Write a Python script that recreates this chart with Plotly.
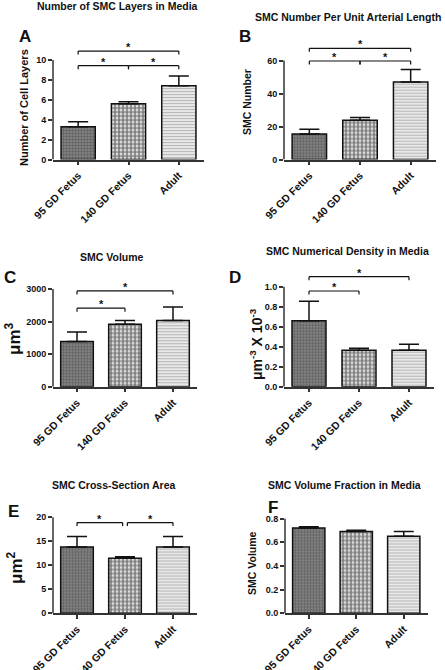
import plotly.graph_objects as go

W, H = 445, 670

categories = ["95 GD Fetus", "140 GD Fetus", "Adult"]

layers_mean = [3.3, 5.6, 7.4]
layers_upper = [3.8, 5.8, 8.4]
number_mean = [15.5, 23.8, 47.0]
number_upper = [18.3, 25.5, 54.5]
volume_mean = [1390, 1920, 2030]
volume_upper = [1680, 2030, 2450]
density_mean = [0.66, 0.365, 0.365]
density_upper = [0.855, 0.385, 0.425]
area_mean = [13.8, 11.45, 13.8]
area_upper = [16.0, 11.8, 16.0]
fraction_mean = [0.72, 0.69, 0.65]
fraction_upper = [0.73, 0.70, 0.69]

titles = ["Number of SMC Layers in Media", "SMC Number Per Unit Arterial Length",
          "SMC Volume", "SMC Numerical Density in Media",
          "SMC Cross-Section Area", "SMC Volume Fraction in Media"]
letters = ["A", "B", "C", "D", "E", "F"]
ytitles = ["Number of Cell Layers", "SMC Number", "μm<sup>3</sup>",
           "μm<sup>-3</sup> X 10<sup>-3</sup>", "μm<sup>2</sup>", "SMC Volume"]
yticks = [[0, 2, 4, 6, 8, 10], [0, 20, 40, 60], [0, 1000, 2000, 3000],
          [0, 0.2, 0.4, 0.6, 0.8, 1.0], [0, 5, 10, 15, 20], [0, 0.2, 0.4, 0.6, 0.8]]
ytickformat = ["", "", "", ".1f", "", ".1f"]

# significance brackets: (from index, to index, level)
brackets = [
    [(0, 2, 10.9), (0, 1, 9.43), (1, 2, 9.43)],
    [(0, 2, 67.4), (0, 1, 59.7), (1, 2, 59.7)],
    [(0, 2, 2940), (0, 1, 2410)],
    [(0, 2, 1.10), (0, 1, 0.957)],
    [(0, 0.95, 18.9), (1.05, 2, 18.9)],
    [],
]

means = [layers_mean, number_mean, volume_mean, density_mean, area_mean, fraction_mean]
uppers = [layers_upper, number_upper, volume_upper, density_upper, area_upper, fraction_upper]

# layout geometry in pixels: x left, x right, y of zero, top tick px, range top
geom = [
    dict(xl=53, xr=204, yb=159.5, ytp=60.0, rtop=11.8),
    dict(xl=284, xr=436, yb=159.5, ytp=60.5, rtop=72),
    dict(xl=53, xr=197, yb=386.7, ytp=289.0, rtop=3300),
    dict(xl=284, xr=434, yb=386.7, ytp=286.7, rtop=1.2),
    dict(xl=53, xr=197, yb=613.3, ytp=517.3, rtop=21.2),
    dict(xl=285, xr=427.5, yb=613.3, ytp=518.5, rtop=0.8),
]
title_pos = [(117, 6), (348, 17), (112, 257), (347, 251), (113, 485), (344, 485)]
letter_pos = [(25, 36), (245, 37), (10, 277), (235, 277), (13, 511), (273, 507)]
ytitle_pos = [(24, 108, 11), (247, 102, 10.5), (13, 339, 17), (256, 344, 14),
              (15, 568, 17), (252, 563, 10.5)]

pattern = dict(
    shape=[".", ".", "-"],
    fgcolor=["#333333", "#000000", "#777777"],
    bgcolor=["#8c8c8c", "#ffffff", "#f2f2f2"],
    size=[3, 4, 3],
    solidity=[0.55, 0.7, 0.45],
)

FONT = "Liberation Sans, Arial, sans-serif"
fig = go.Figure()
shapes = []
annotations = []

for k in range(6):
    g = geom[k]
    sfx = "" if k == 0 else str(k + 1)
    xa, ya = "x" + sfx, "y" + sfx
    topval = yticks[k][-1]
    ppu = (g["yb"] - g["ytp"]) / topval
    ytop_px = g["yb"] - g["rtop"] * ppu
    err = [u - m for u, m in zip(uppers[k], means[k])]
    fig.add_trace(go.Bar(
        x=categories, y=means[k], xaxis=xa, yaxis=ya,
        width=0.68,
        marker=dict(pattern=pattern, line=dict(color="#111111", width=1.5)),
        error_y=dict(type="data", symmetric=False, array=err, arrayminus=[0, 0, 0],
                     color="#111111", thickness=1.5, width=10),
        showlegend=False,
    ))
    fig.update_layout(**{
        "xaxis" + sfx: dict(
            domain=[g["xl"] / W, g["xr"] / W], anchor=ya, range=[-0.5, 2.5],
            automargin=False,
            showline=True, linecolor="#333333", linewidth=1.5,
            ticks="outside", ticklen=4, tickwidth=1.5, tickcolor="#333333",
            tickangle=-45, tickfont=dict(family=FONT, size=10.5, color="#111111", weight="bold"),
            showgrid=False, zeroline=False, fixedrange=True,
        ),
        "yaxis" + sfx: dict(
            domain=[1 - g["yb"] / H, 1 - ytop_px / H], anchor=xa, range=[0, g["rtop"]],
            automargin=False,
            showline=False, tickvals=yticks[k], tickformat=ytickformat[k],
            ticks="outside", ticklen=4, tickwidth=1.5, tickcolor="#333333",
            tickfont=dict(family=FONT, size=9, color="#111111", weight="bold"),
            showgrid=False, zeroline=False, fixedrange=True,
        ),
    })
    # y axis line (stops at top tick)
    shapes.append(dict(type="line", xref=xa + " domain", yref=ya, x0=0, x1=0, y0=0,
                       y1=topval, line=dict(color="#333333", width=1.5)))
    d = 3.5 / ppu
    for (i, j, lvl) in brackets[k]:
        shapes.append(dict(type="line", xref=xa, yref=ya, x0=i, x1=j, y0=lvl, y1=lvl,
                           line=dict(color="#111111", width=1.2)))
        for xx in (i, j):
            shapes.append(dict(type="line", xref=xa, yref=ya, x0=xx, x1=xx, y0=lvl,
                               y1=lvl - d, line=dict(color="#111111", width=1.2)))
        annotations.append(dict(xref=xa, yref=ya, x=(i + j) / 2, y=lvl, text="*",
                                showarrow=False, yanchor="bottom", yshift=-4,
                                font=dict(family=FONT, size=11, color="#111111", weight="bold")))
    tx, ty = title_pos[k]
    annotations.append(dict(xref="paper", yref="paper", x=tx / W, y=1 - ty / H, text=titles[k],
                            showarrow=False, xanchor="center", yanchor="middle",
                            font=dict(family=FONT, size=10.5, color="#111111", weight="bold")))
    lx, ly = letter_pos[k]
    annotations.append(dict(xref="paper", yref="paper", x=lx / W, y=1 - ly / H, text=letters[k],
                            showarrow=False, xanchor="center", yanchor="middle",
                            font=dict(family=FONT, size=17, color="#111111", weight="bold")))
    yx, yy, ys = ytitle_pos[k]
    annotations.append(dict(xref="paper", yref="paper", x=yx / W, y=1 - yy / H, text=ytitles[k],
                            showarrow=False, xanchor="center", yanchor="middle", textangle=-90,
                            font=dict(family=FONT, size=ys, color="#111111", weight="bold")))

fig.update_layout(
    width=W, height=H, margin=dict(l=0, r=0, t=0, b=0, autoexpand=False),
    paper_bgcolor="white", plot_bgcolor="white",
    shapes=shapes, annotations=annotations, bargap=0.3,
)

fig.write_html(
    "out.html",
    config={"displayModeBar": False},
    post_script="document.body.style.margin='0';document.body.style.padding='0';",
)
